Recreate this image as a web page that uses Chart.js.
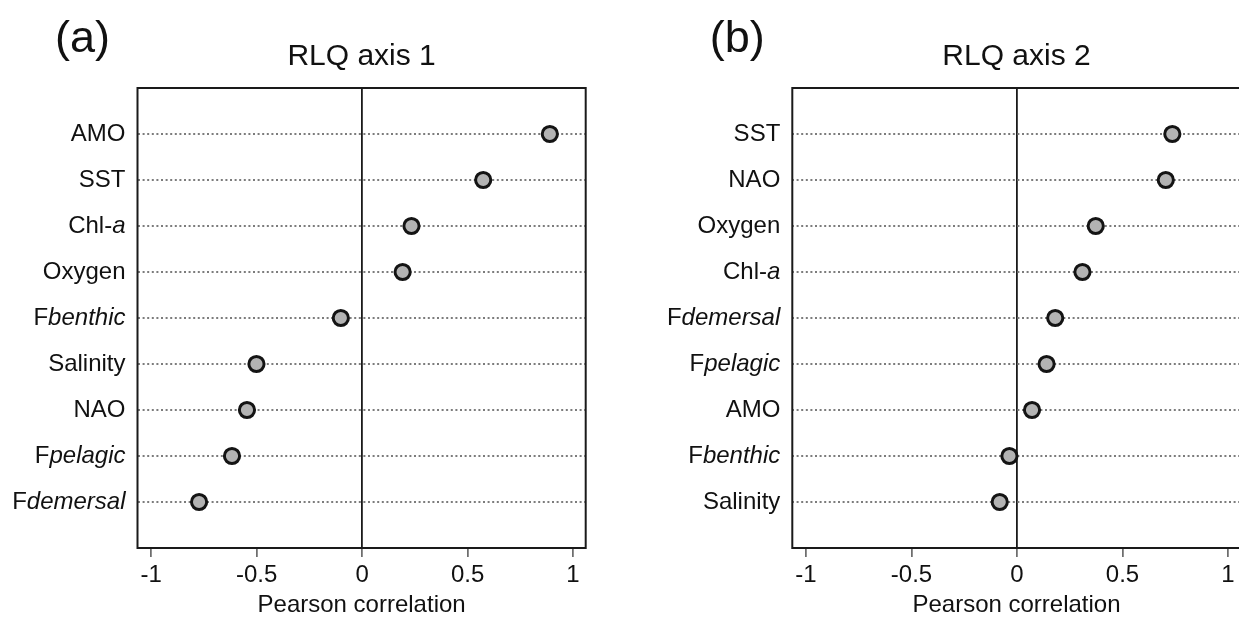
<!DOCTYPE html>
<html>
<head>
<meta charset="utf-8">
<script src="https://cdn.jsdelivr.net/npm/chart.js@4.4.1/dist/chart.umd.min.js"></script>
<style>
  html, body { margin: 0; padding: 0; background: #fff; overflow: hidden; }
  #wrap { position: relative; width: 1239px; height: 620px; overflow: hidden; }
  canvas { position: absolute; top: 0; }
  #panelA { left: 0; }
  #panelB { left: 620px; }
</style>
</head>
<body>
<div id="wrap">
  <canvas id="panelA" width="620" height="620"></canvas>
  <canvas id="panelB" width="660" height="620"></canvas>
</div>
<script>
const FONT = "'Liberation Sans', Arial, Helvetica, sans-serif";

// panel (a) - RLQ axis 1
const namesA = ['AMO', 'SST', 'Chl-a', 'Oxygen', 'Fbenthic', 'Salinity', 'NAO', 'Fpelagic', 'Fdemersal'];
const valuesA = [0.89, 0.574, 0.234, 0.192, -0.101, -0.501, -0.546, -0.617, -0.773];

// panel (b) - RLQ axis 2
const namesB = ['SST', 'NAO', 'Oxygen', 'Chl-a', 'Fdemersal', 'Fpelagic', 'AMO', 'Fbenthic', 'Salinity'];
const valuesB = [0.736, 0.705, 0.373, 0.31, 0.181, 0.14, 0.071, -0.036, -0.082];

const xTicks = [-1, -0.5, 0, 0.5, 1];

// F-group names and Chl-a get their italic part split off
function splitLabel(name) {
    if (name === 'Chl-a') return [['Chl-', false], ['a', true]];
    if (/^F[a-z]/.test(name)) return [['F', false], [name.slice(1), true]];
    return [[name, false]];
}

const panelDecor = {
    id: 'panelDecor',
    beforeDatasetsDraw(chart, args, opts) {
        const { ctx, chartArea: a } = chart;
        ctx.save();
        ctx.strokeStyle = '#1a1a1a';
        ctx.lineWidth = 2;
        ctx.strokeRect(a.left, a.top, a.right - a.left, a.bottom - a.top);
        ctx.restore();
    },
    afterDraw(chart, args, opts) {
        const { ctx, chartArea: a } = chart;
        const yScale = chart.scales.y;
        ctx.save();
        ctx.fillStyle = '#111';

        // row labels, right aligned, with italic parts
        ctx.textBaseline = 'alphabetic';
        opts.names.forEach((name, i) => {
            const y = yScale.getPixelForValue(i + 1) + 7;
            const parts = splitLabel(name);
            let widths = parts.map(([t, it]) => {
                ctx.font = (it ? 'italic ' : '') + '24px ' + FONT;
                return ctx.measureText(t).width;
            });
            let x = a.left - 12 - widths.reduce((s, w) => s + w, 0);
            ctx.textAlign = 'left';
            parts.forEach(([t, it], k) => {
                ctx.font = (it ? 'italic ' : '') + '24px ' + FONT;
                ctx.fillText(t, x, y);
                x += widths[k];
            });
        });

        // panel title
        ctx.textAlign = 'center';
        ctx.font = '30px ' + FONT;
        ctx.fillText(opts.title, (a.left + a.right) / 2, 65);

        // panel letter
        ctx.font = '45px ' + FONT;
        ctx.fillText(opts.letter, a.left - 55, 52);
        ctx.restore();
    }
};

function makePanel(canvasId, names, values, title, letter, leftW, rightPad) {
    const ctx = document.getElementById(canvasId);
    return new Chart(ctx, {
        type: 'scatter',
        data: {
            datasets: [{
                data: values.map((v, i) => ({ x: v, y: i + 1 })),
                backgroundColor: '#b3b3b3',
                borderColor: '#141414',
                borderWidth: 3,
                pointRadius: 7.6,
                pointHoverRadius: 7.6
            }]
        },
        options: {
            responsive: false,
            animation: false,
            layout: { padding: { top: 88, right: rightPad, left: 0, bottom: 0 } },
            plugins: {
                legend: { display: false },
                tooltip: { enabled: false },
                panelDecor: { names: names, title: title, letter: letter }
            },
            scales: {
                x: {
                    type: 'linear',
                    min: -1.065,
                    max: 1.06,
                    afterBuildTicks: scale => { scale.ticks = xTicks.map(v => ({ value: v })); },
                    afterFit: scale => { scale.height = 72; },
                    border: { display: false },
                    grid: {
                        color: c => (c.tick && c.tick.value === 0 ? '#1a1a1a' : 'rgba(0,0,0,0)'),
                        lineWidth: 1.8,
                        tickColor: '#555',
                        tickWidth: 1.5,
                        tickLength: 9
                    },
                    ticks: {
                        color: '#111',
                        padding: 4,
                        font: { family: FONT, size: 24 },
                        callback: v => String(v)
                    },
                    title: {
                        display: true,
                        text: 'Pearson correlation',
                        color: '#111',
                        font: { family: FONT, size: 24 },
                        padding: { top: 0, bottom: 0 }
                    }
                },
                y: {
                    type: 'linear',
                    min: 0,
                    max: 10,
                    reverse: true,
                    afterBuildTicks: scale => { scale.ticks = names.map((n, i) => ({ value: i + 1 })); },
                    afterFit: scale => { scale.width = leftW; },
                    border: { display: false, dash: [2, 2.6] },
                    grid: {
                        color: '#7c7c7c',
                        lineWidth: 2,
                        drawTicks: false
                    },
                    ticks: { display: false }
                }
            }
        },
        plugins: [panelDecor]
    });
}

makePanel('panelA', namesA, valuesA, 'RLQ axis 1', '(a)', 137.5, 34.3);
makePanel('panelB', namesB, valuesB, 'RLQ axis 2', '(b)', 172.3, 39.3);
</script>
</body>
</html>
